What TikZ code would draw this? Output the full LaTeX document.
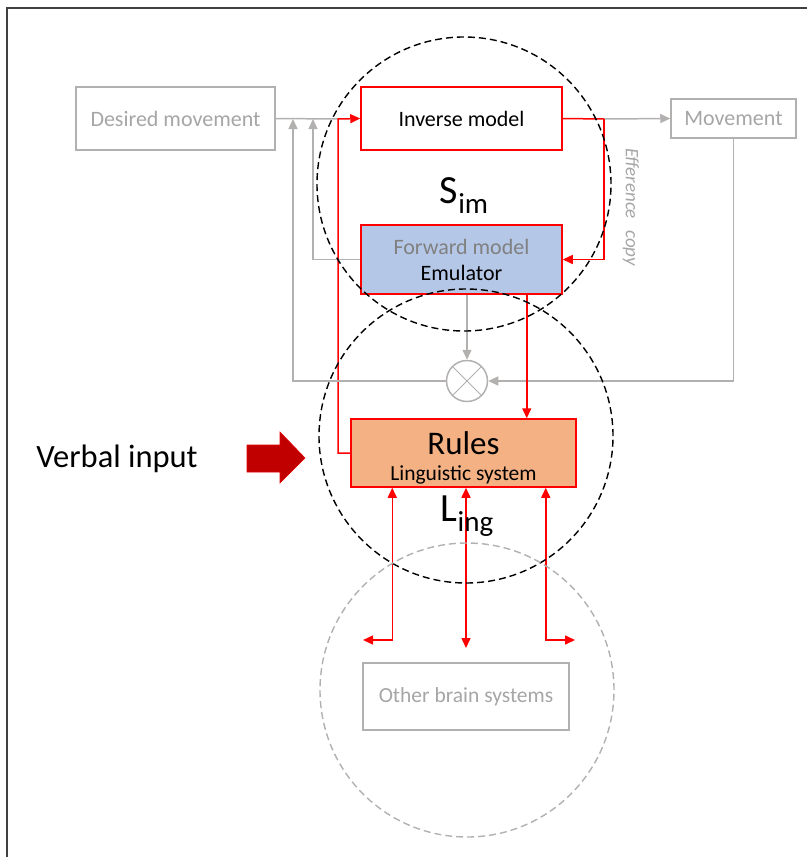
\documentclass[tikz,border=0pt]{standalone}
\usepackage{fontspec}
\setmainfont{Carlito}
\usepackage{tikz}
\usepackage{xcolor}
\usetikzlibrary{arrows.meta}
\definecolor{linegray}{HTML}{B3B0B0}
\definecolor{textgray}{HTML}{A6A6A6}
\definecolor{framegray}{HTML}{404040}
\definecolor{emublue}{HTML}{B4C7E7}
\definecolor{rulesorange}{HTML}{F4B183}
\definecolor{verbalred}{HTML}{C00000}
\tikzset{
    gray-box/.style = {draw=linegray, fill=white, line width=1.5pt, rectangle, inner sep=0pt, text=textgray, font=\fontsize{22}{26}\selectfont},
    red-box/.style = {draw=red, line width=1.5pt, rectangle, inner sep=0pt, align=center, font=\fontsize{22}{26}\selectfont},
    gray-line/.style = {draw=linegray, line width=1.5pt},
    gray-arrow/.style = {gray-line, -{Triangle[length=10pt,width=9pt]}},
    red-line/.style = {draw=red, line width=1.5pt},
    red-arrow/.style = {red-line, -{Triangle[length=10pt,width=9pt]}},
    red-both/.style = {red-line, {Triangle[length=10pt,width=9pt]}-{Triangle[length=10pt,width=9pt]}},
    zone/.style = {dash pattern=on 7pt off 4pt, line width=1.4pt},
    comparator/.style = {circle, draw=linegray, line width=1.5pt, minimum size=41pt, inner sep=0pt,
        path picture={\draw[linegray, line width=0.8pt] (path picture bounding box.north west) -- (path picture bounding box.south east)
            (path picture bounding box.north east) -- (path picture bounding box.south west);}},
    zone-label/.style = {font=\fontsize{40}{44}\selectfont, inner sep=0pt},
}

\begin{document}
\begin{tikzpicture}[x=1pt,y=-1pt]
\useasboundingbox (0,0) rectangle (807,857);
\draw[framegray, line width=1.2pt] (807,8) -- (7,8) -- (7,857);

% motor loop
\node[gray-box, minimum width=199pt, minimum height=63pt] (desired) at (175.5,118.5) {Desired movement};
\node[red-box, fill=white, minimum width=201pt, minimum height=63pt] (inverse) at (461.5,118.5) {Inverse model};
\node[gray-box, minimum width=125pt, minimum height=39pt] (movement) at (733.5,118.5) {Movement};
\node[red-box, fill=emublue, minimum width=201pt, minimum height=69pt] (forward) at (461.5,259.5) {\textcolor{gray}{Forward model}\\Emulator};
\node[comparator] (comp) at (467,381) {};

% linguistic system
\node[red-box, fill=rulesorange, minimum width=225pt, minimum height=68pt] (rules) at (463.5,453)
    {\fontsize{33}{34}\selectfont\rule{0pt}{33pt}Rules\\[0pt]\fontsize{21.5}{24}\selectfont Linguistic system};
\node[gray-box, minimum width=206pt, minimum height=67pt, font=\fontsize{21.5}{24}\selectfont] (other) at (466,696.5) {Other brain systems};
\node[font=\fontsize{32.5}{34}\selectfont] (verbal) at (117,459) {Verbal input};
\filldraw[fill=verbalred, draw=red!60!verbalred, line width=0.6pt]
    (247,445) -- (280,445) -- (280,432) -- (305,458) -- (280,483) -- (280,472) -- (247,472) -- cycle;

% bends
\coordinate (red-bend) at (338,119);
\coordinate (fwd-bend) at (313,119);
\coordinate (comp-bend) at (293,119);
\coordinate (eff-bend) at (604,119);
\coordinate (out-left) at (363,640);
\coordinate (out-mid) at (466,648);
\coordinate (out-right) at (575,640);

% connectors
\draw[gray-line] (desired.east) -- (red-bend);
\draw[red-arrow] (rules.west) -| (red-bend) -- (inverse.west);
\draw[red-line] (inverse.east) -- (eff-bend);
\draw[gray-arrow] (eff-bend) -- (movement.west);
\draw[red-arrow] (eff-bend) |- (forward.east);
\draw[gray-arrow] (forward.west) -| (fwd-bend);
\draw[gray-arrow] (comp |- forward.south) -- (comp.north);
\draw[gray-arrow] (movement.south) |- (comp.east);
\draw[gray-arrow] (comp.west) -| (comp-bend);
\draw[red-arrow] ([xshift=-36pt]forward.south east) -- ([xshift=-36pt]forward.south east |- rules.north);
\draw[red-both] (out-left) -| ([xshift=42pt]rules.south west);
\draw[red-both] (out-mid) -- (out-mid |- rules.south);
\draw[red-both] (out-right) -| ([xshift=-31pt]rules.south east);

\node[rotate=-90, text=textgray, font=\fontsize{19}{20}\selectfont\itshape] (efference) at (631,207) {Efference\hspace{0.6em}copy};

% zones
\draw[zone] (464,184) circle (147pt);
\draw[zone] (466,436) circle (147pt);
\draw[zone, linegray] (467,690) circle (147pt);
\node[zone-label] (sim) at (464,196) {S\raisebox{-10pt}{\fontsize{29}{30}\selectfont im}};
\node[zone-label] (ling) at (467,516) {L\raisebox{-10pt}{\fontsize{29}{30}\selectfont ing}};
\end{tikzpicture}
\end{document}
